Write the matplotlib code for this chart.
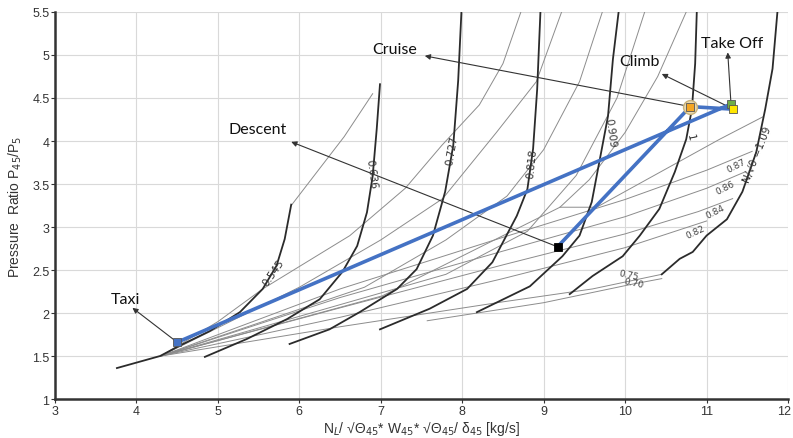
import matplotlib
matplotlib.use("Agg")
import matplotlib.pyplot as plt
import matplotlib.transforms as mtransforms

# speed lines N/sqrt(theta)
speed_labels = ["0.545", "0.636", "0.727", "0.818", "0.909", "1", "N/√θ =1.09"]
spd_545_x = [3.76, 4.29, 4.53, 4.90, 5.27, 5.55, 5.72, 5.82, 5.90]
spd_545_y = [1.36, 1.50, 1.62, 1.79, 2.01, 2.28, 2.55, 2.86, 3.26]
spd_636_x = [4.84, 5.36, 5.85, 6.25, 6.53, 6.71, 6.83, 6.90, 6.95, 6.99]
spd_636_y = [1.49, 1.70, 1.93, 2.16, 2.48, 2.78, 3.17, 3.59, 4.14, 4.66]
spd_727_x = [5.88, 6.37, 6.74, 7.20, 7.44, 7.64, 7.79, 7.89, 7.95, 7.99]
spd_727_y = [1.64, 1.81, 2.01, 2.28, 2.51, 2.90, 3.41, 3.95, 4.70, 5.50]
spd_818_x = [6.99, 7.60, 8.06, 8.37, 8.67, 8.80, 8.87, 8.92, 8.96]
spd_818_y = [1.81, 2.05, 2.28, 2.59, 3.13, 3.44, 3.91, 4.60, 5.50]
spd_909_x = [8.18, 8.83, 9.23, 9.44, 9.59, 9.69, 9.79, 9.85, 9.92]
spd_909_y = [2.01, 2.31, 2.66, 2.90, 3.29, 3.79, 4.29, 4.95, 5.50]
spd_100_x = [9.32, 9.60, 9.97, 10.18, 10.42, 10.61, 10.75, 10.82, 10.86, 10.88]
spd_100_y = [2.22, 2.43, 2.66, 2.90, 3.21, 3.64, 4.02, 4.37, 4.90, 5.50]
spd_109_x = [10.45, 10.67, 10.83, 11.00, 11.25, 11.44, 11.61, 11.72, 11.81, 11.87]
spd_109_y = [2.45, 2.63, 2.71, 2.90, 3.09, 3.41, 3.87, 4.37, 4.84, 5.50]
speed_x = [spd_545_x, spd_636_x, spd_727_x, spd_818_x, spd_909_x, spd_100_x, spd_109_x]
speed_y = [spd_545_y, spd_636_y, spd_727_y, spd_818_y, spd_909_y, spd_100_y, spd_109_y]
# label position / rotation along each speed line
speed_lab_x = [5.68, 6.88, 7.88, 8.85, 9.82, 10.80, 11.62]
speed_lab_y = [2.48, 3.62, 3.90, 3.75, 4.10, 4.05, 3.85]
speed_lab_rot = [55, -82, 80, 84, -82, -78, 68]

# efficiency contours (thin grey)
eff_labels = ["0.87", "0.86", "0.84", "0.82", "0.75", "0.70"]
eff_87_x = [4.30, 6.50, 8.50, 10.00, 11.00, 11.56]
eff_87_y = [1.50, 2.28, 2.88, 3.32, 3.66, 3.88]
eff_86_x = [4.30, 6.50, 8.50, 10.00, 11.00, 11.47]
eff_86_y = [1.50, 2.18, 2.72, 3.12, 3.45, 3.64]
eff_84_x = [4.30, 6.50, 8.50, 10.00, 10.90, 11.32]
eff_84_y = [1.50, 2.06, 2.56, 2.92, 3.18, 3.33]
eff_82_x = [4.30, 6.50, 8.50, 10.00, 11.00]
eff_82_y = [1.50, 1.95, 2.40, 2.76, 3.07]
eff_75_x = [4.30, 6.50, 8.50, 9.60, 10.45]
eff_75_y = [1.50, 1.84, 2.13, 2.28, 2.45]
eff_70_x = [7.57, 9.00, 10.06, 10.45]
eff_70_y = [1.91, 2.12, 2.33, 2.40]
eff_x = [eff_87_x, eff_86_x, eff_84_x, eff_82_x, eff_75_x, eff_70_x]
eff_y = [eff_87_y, eff_86_y, eff_84_y, eff_82_y, eff_75_y, eff_70_y]
eff_lab_x = [11.36, 11.23, 11.10, 10.86, 10.05, 10.10]
eff_lab_y = [3.72, 3.46, 3.18, 2.95, 2.45, 2.35]
eff_lab_rot = [27, 27, 27, 25, -12, -12]

# upper contours (thin grey, running to the top of the map)
up_1_x = [5.90, 6.20, 6.55, 6.90]
up_1_y = [3.25, 3.62, 4.05, 4.55]
up_2_x = [4.30, 5.00, 5.55, 6.62, 7.30, 7.75, 8.21, 8.50, 8.72]
up_2_y = [1.50, 1.90, 2.28, 2.90, 3.45, 3.95, 4.42, 4.90, 5.50]
up_3_x = [4.30, 6.00, 7.00, 7.76, 8.42, 8.91, 9.22]
up_3_y = [1.50, 2.30, 2.85, 3.33, 4.10, 4.69, 5.50]
up_4_x = [4.30, 6.80, 7.80, 8.55, 9.00, 9.44, 9.72]
up_4_y = [1.50, 2.30, 2.85, 3.36, 3.90, 4.69, 5.50]
up_5_x = [4.30, 7.80, 8.80, 9.40, 9.90, 10.24]
up_5_y = [1.50, 2.45, 2.95, 3.60, 4.50, 5.50]
up_6_x = [4.30, 7.02, 9.20, 9.56, 10.00, 10.40, 10.75]
up_6_y = [1.50, 2.20, 3.23, 3.55, 4.10, 4.75, 5.50]
up_7_x = [9.20, 9.65, 11.16, 11.69]
up_7_y = [3.23, 3.23, 4.02, 4.28]
upper_x = [up_1_x, up_2_x, up_3_x, up_4_x, up_5_x, up_6_x, up_7_x]
upper_y = [up_1_y, up_2_y, up_3_y, up_4_y, up_5_y, up_6_y, up_7_y]

# operating points
phase = ["Taxi", "Take Off", "Climb", "Cruise", "Descent"]
op_x = [4.50, 11.30, 11.33, 10.80, 9.17]
op_y = [1.66, 4.43, 4.37, 4.40, 2.77]
op_color = ["#4472C4", "#70AD47", "#FFE600", "#F5A623", "#000000"]
# label text positions
lab_x = [3.86, 11.31, 10.18, 7.17, 5.49]
lab_y = [2.16, 5.14, 4.93, 5.07, 4.14]
# arrow head positions
head_x = [3.95, 11.26, 10.45, 7.54, 5.90]
head_y = [2.06, 5.03, 4.78, 4.99, 3.99]

fig = plt.figure(figsize=(7.93, 4.39), dpi=100)
ax = fig.add_axes([0.0694, 0.0888, 0.9243, 0.8816])

for xs, ys in zip(upper_x, upper_y):
    ax.plot(xs, ys, color="#8c8c8c", lw=0.7, zorder=2)
for xs, ys in zip(eff_x, eff_y):
    ax.plot(xs, ys, color="#8c8c8c", lw=0.7, zorder=2)
for xs, ys in zip(speed_x, speed_y):
    ax.plot(xs, ys, color="#2b2b2b", lw=1.3, zorder=3)

for t, x, y, r in zip(speed_labels, speed_lab_x, speed_lab_y, speed_lab_rot):
    ax.text(x, y, t, fontsize=7.5, rotation=r, ha="center", va="center",
            color="#333333", zorder=4)
for t, x, y, r in zip(eff_labels, eff_lab_x, eff_lab_y, eff_lab_rot):
    ax.text(x, y, t, fontsize=6.5, rotation=r, ha="center", va="center",
            color="#444444", zorder=4)

# operating line: taxi -> take off -> climb -> cruise -> descent
ax.plot(op_x, op_y, color="#4472C4", lw=2.6, zorder=5)
ax.plot(op_x[3], op_y[3], "o", ms=10, mfc="#E8D9B0", mec="#C9B27A", zorder=6)
for x, y, c in zip(op_x, op_y, op_color):
    ax.plot(x, y, "s", ms=6, mfc=c, mec="#555555" if c != "#000000" else "k",
            mew=0.6, zorder=7)

for i in range(len(phase)):
    ax.annotate("", xy=(head_x[i], head_y[i]), xytext=(op_x[i], op_y[i]),
                arrowprops=dict(arrowstyle="-|>", color="#333333", lw=0.8,
                                mutation_scale=8, shrinkA=0, shrinkB=0), zorder=4)
    ax.text(lab_x[i], lab_y[i], phase[i], fontsize=11.5, family="Lato",
            ha="center", va="center", color="#111111", zorder=8)

ax.set_xlim(3, 12)
ax.set_ylim(1, 5.5)
ax.set_xticks(range(3, 13))
ax.set_yticks([1, 1.5, 2, 2.5, 3, 3.5, 4, 4.5, 5, 5.5])
ax.set_yticklabels(["1", "1.5", "2", "2.5", "3", "3.5", "4", "4.5", "5", "5.5"])
ax.grid(True, color="#d9d9d9", lw=0.8)
ax.set_axisbelow(True)
for s in ["top", "right"]:
    ax.spines[s].set_visible(False)
for s in ["left", "bottom"]:
    ax.spines[s].set_linewidth(1.8)
    ax.spines[s].set_color("#333333")
ax.tick_params(labelsize=9, colors="#333333", length=3, pad=1)
for lbl in ax.get_xticklabels() + ax.get_yticklabels():
    lbl.set_family("Liberation Sans")
# keep the last x tick label inside the figure
last = ax.get_xticklabels()[-1]
last.set_transform(last.get_transform() +
                   mtransforms.ScaledTranslation(-4 / 100, 0, fig.dpi_scale_trans))

ax.set_xlabel(r"N$_L$/ √Θ$_{45}$* W$_{45}$* √Θ$_{45}$/ δ$_{45}$ [kg/s]",
              fontsize=10, family="Liberation Sans", labelpad=2, color="#333333")
ax.set_ylabel(r"Pressure  Ratio P$_{45}$/P$_5$", fontsize=10,
              family="Liberation Sans", labelpad=6, color="#333333")

fig.savefig("out.png", dpi=100)
